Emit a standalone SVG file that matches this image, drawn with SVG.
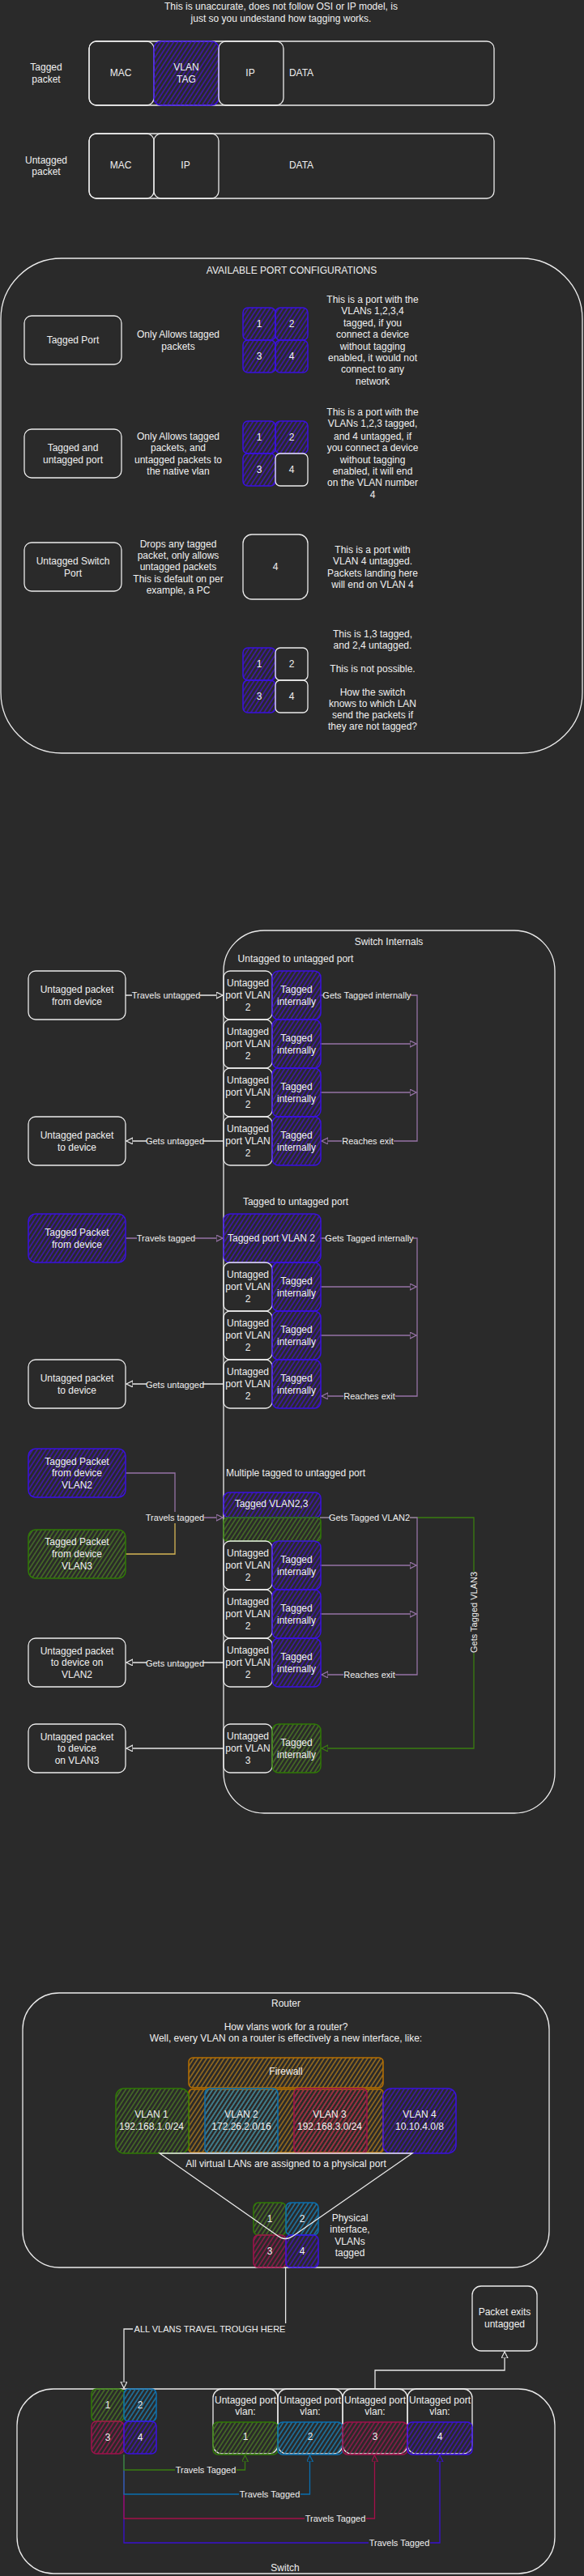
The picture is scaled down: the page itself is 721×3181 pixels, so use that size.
<svg xmlns="http://www.w3.org/2000/svg" width="721" height="3181" viewBox="0 0 721 3181">
<style>
text{font-family:"Liberation Sans",Arial,Helvetica,sans-serif;font-size:12px;fill:#f0f0f0;text-anchor:middle;dominant-baseline:central}
.l{font-size:11px}
.w{fill:none;stroke:#ececec;stroke-width:1.3}
.pu{fill:url(#hpu);stroke:#3a10e0;stroke-width:1.5}
.gr{fill:url(#hgr);stroke:#2f7a05;stroke-width:1.5}
.bl{fill:url(#hbl);stroke:#0a6fb0;stroke-width:1.5}
.rd{fill:url(#hrd);stroke:#a0104c;stroke-width:1.5}
.or{fill:url(#hor);stroke:#b87000;stroke-width:1.5}
.c{fill:none;stroke-width:1.3}
.cw{stroke:#e8e8e8}
.cp{stroke:#9673a6}
.cy{stroke:#d6b656}
.cg{stroke:#3a7d10}
.cb{stroke:#0a6fb0}
.cr{stroke:#a3104a}
.cd{stroke:#3a10d0}
.lb{fill:#2a2a2a}
</style>
<defs>
<pattern id="hpu" width="4.5" height="4.5" patternUnits="userSpaceOnUse" patternTransform="rotate(33)"><line x1="1" y1="0" x2="1" y2="4.5" stroke="#4214c4" stroke-width="1.3"/></pattern>
<pattern id="hgr" width="4.5" height="4.5" patternUnits="userSpaceOnUse" patternTransform="rotate(33)"><line x1="1" y1="0" x2="1" y2="4.5" stroke="#4c7c24" stroke-width="1.3"/></pattern>
<pattern id="hbl" width="4.5" height="4.5" patternUnits="userSpaceOnUse" patternTransform="rotate(33)"><line x1="1" y1="0" x2="1" y2="4.5" stroke="#1a84bc" stroke-width="1.3"/></pattern>
<pattern id="hrd" width="4.5" height="4.5" patternUnits="userSpaceOnUse" patternTransform="rotate(33)"><line x1="1" y1="0" x2="1" y2="4.5" stroke="#a01850" stroke-width="1.3"/></pattern>
<pattern id="hor" width="4.5" height="4.5" patternUnits="userSpaceOnUse" patternTransform="rotate(33)"><line x1="1" y1="0" x2="1" y2="4.5" stroke="#b07a1a" stroke-width="1.3"/></pattern>
<marker id="aw" markerUnits="userSpaceOnUse" markerWidth="10" markerHeight="10" refX="8" refY="4" orient="auto"><path d="M0,0 L8,4 L0,8 Z" fill="#2a2a2a" stroke="#e8e8e8" stroke-width="1.2"/></marker>
<marker id="ap" markerUnits="userSpaceOnUse" markerWidth="10" markerHeight="10" refX="8" refY="4" orient="auto"><path d="M0,0 L8,4 L0,8 Z" fill="#2a2a2a" stroke="#9673a6" stroke-width="1.2"/></marker>
<marker id="ag" markerUnits="userSpaceOnUse" markerWidth="10" markerHeight="10" refX="8" refY="4" orient="auto"><path d="M0,0 L8,4 L0,8 Z" fill="#2a2a2a" stroke="#3a7d10" stroke-width="1.2"/></marker>
<marker id="ab" markerUnits="userSpaceOnUse" markerWidth="10" markerHeight="10" refX="8" refY="4" orient="auto"><path d="M0,0 L8,4 L0,8 Z" fill="#2a2a2a" stroke="#0a6fb0" stroke-width="1.2"/></marker>
<marker id="ar" markerUnits="userSpaceOnUse" markerWidth="10" markerHeight="10" refX="8" refY="4" orient="auto"><path d="M0,0 L8,4 L0,8 Z" fill="#2a2a2a" stroke="#a3104a" stroke-width="1.2"/></marker>
<marker id="ad" markerUnits="userSpaceOnUse" markerWidth="10" markerHeight="10" refX="8" refY="4" orient="auto"><path d="M0,0 L8,4 L0,8 Z" fill="#2a2a2a" stroke="#3a10d0" stroke-width="1.2"/></marker>
</defs>
<rect x="0" y="0" width="721" height="3181" fill="#2a2a2a"/>

<!-- Section 1: packets -->
<g id="title1"><text x="347" y="8">This is unaccurate, does not follow OSI or IP model, is</text><text x="347" y="23">just so you undestand how tagging works.</text></g>
<g id="tagged-packet">
<text x="57" y="83">Tagged</text><text x="57" y="98">packet</text>
<rect class="w" x="110" y="51" width="500" height="79" rx="9"/>
<rect class="w" x="110" y="51" width="80" height="79" rx="9"/>
<rect class="pu" x="190" y="51" width="80" height="79" rx="9"/>
<rect class="w" x="270" y="51" width="80" height="79" rx="9"/>
<text x="149" y="90">MAC</text>
<text x="230" y="83">VLAN</text><text x="230" y="98">TAG</text>
<text x="309" y="90">IP</text>
<text x="372" y="90">DATA</text>
</g>
<g id="untagged-packet">
<text x="57" y="198">Untagged</text><text x="57" y="212">packet</text>
<rect class="w" x="110" y="165" width="500" height="80" rx="9"/>
<rect class="w" x="110" y="165" width="80" height="80" rx="9"/>
<rect class="w" x="190" y="165" width="80" height="80" rx="9"/>
<text x="149" y="204">MAC</text>
<text x="229" y="204">IP</text>
<text x="372" y="204">DATA</text>
</g>

<!-- Section 2: port configurations -->
<g id="port-configs">
<rect class="w" x="1" y="319" width="718" height="611" rx="75"/>
<text x="360" y="334">AVAILABLE PORT CONFIGURATIONS</text>
</g>
<g id="tagged-port">
<rect class="w" x="30" y="390" width="120" height="60" rx="9"/>
<text x="90" y="420">Tagged Port</text>
<text x="220" y="413">Only Allows tagged</text><text x="220" y="428">packets</text>
<rect class="pu" x="300" y="380" width="40" height="40" rx="6"/>
<rect class="pu" x="340" y="380" width="40" height="40" rx="6"/>
<rect class="pu" x="300" y="420" width="40" height="40" rx="6"/>
<rect class="pu" x="340" y="420" width="40" height="40" rx="6"/>
<text x="320" y="400">1</text><text x="360" y="400">2</text><text x="320" y="440">3</text><text x="360" y="440">4</text>
<text x="460" y="370">This is a port with the</text>
<text x="460" y="384">VLANs 1,2,3,4</text>
<text x="460" y="399">tagged, if you</text>
<text x="460" y="413">connect a device</text>
<text x="460" y="428">without tagging</text>
<text x="460" y="442">enabled, it would not</text>
<text x="460" y="456">connect to any</text>
<text x="460" y="471">network</text>
</g>
<g id="tagged-untagged-port">
<rect class="w" x="30" y="530" width="120" height="60" rx="9"/>
<text x="90" y="553">Tagged and</text><text x="90" y="568">untagged port</text>
<text x="220" y="539">Only Allows tagged</text><text x="220" y="553">packets, and</text><text x="220" y="568">untagged packets to</text><text x="220" y="582">the native vlan</text>
<rect class="pu" x="300" y="520" width="40" height="40" rx="6"/>
<rect class="pu" x="340" y="520" width="40" height="40" rx="6"/>
<rect class="pu" x="300" y="560" width="40" height="40" rx="6"/>
<rect class="w" x="340" y="560" width="40" height="40" rx="6"/>
<text x="320" y="540">1</text><text x="360" y="540">2</text><text x="320" y="580">3</text><text x="360" y="580">4</text>
<text x="460" y="509">This is a port with the</text>
<text x="460" y="523">VLANs 1,2,3 tagged,</text>
<text x="460" y="539">and 4 untagged, if</text>
<text x="460" y="553">you connect a device</text>
<text x="460" y="568">without tagging</text>
<text x="460" y="582">enabled, it will end</text>
<text x="460" y="596">on the VLAN number</text>
<text x="460" y="611">4</text>
</g>
<g id="untagged-port">
<rect class="w" x="30" y="670" width="120" height="60" rx="9"/>
<text x="90" y="693">Untagged Switch</text><text x="90" y="708">Port</text>
<text x="220" y="672">Drops any tagged</text><text x="220" y="686">packet, only allows</text><text x="220" y="700">untagged packets</text><text x="220" y="715">This is default on per</text><text x="220" y="729">example, a PC</text>
<rect class="w" x="300" y="660" width="80" height="80" rx="11"/>
<text x="340" y="700">4</text>
<text x="460" y="679">This is a port with</text>
<text x="460" y="693">VLAN 4 untagged.</text>
<text x="460" y="708">Packets landing here</text>
<text x="460" y="722">will end on VLAN 4</text>
</g>
<g id="impossible-port">
<rect class="pu" x="300" y="800" width="40" height="40" rx="6"/>
<rect class="w" x="340" y="800" width="40" height="40" rx="6"/>
<rect class="pu" x="300" y="840" width="40" height="40" rx="6"/>
<rect class="w" x="340" y="840" width="40" height="40" rx="6"/>
<text x="320" y="820">1</text><text x="360" y="820">2</text><text x="320" y="860">3</text><text x="360" y="860">4</text>
<text x="460" y="783">This is 1,3 tagged,</text>
<text x="460" y="797">and 2,4 untagged.</text>
<text x="460" y="826">This is not possible.</text>
<text x="460" y="855">How the switch</text>
<text x="460" y="869">knows to which LAN</text>
<text x="460" y="883">send the packets if</text>
<text x="460" y="897">they are not tagged?</text>
</g>

<!-- Section 3: switch internals -->
<g id="switch-internals">
<rect class="w" x="276" y="1149" width="409" height="1090" rx="50"/>
<text x="480" y="1163">Switch Internals</text>
<text x="365" y="1184">Untagged to untagged port</text>
<text x="365" y="1484">Tagged to untagged port</text>
<text x="365" y="1819">Multiple tagged to untagged port</text>
</g>

<g id="connectors">
<path class="c cw" d="M155,1229 H275" marker-end="url(#aw)"/>
<rect class="lb" x="163" y="1222" width="84" height="14"/><text class="l" x="205" y="1229">Travels untagged</text>
<path class="c cw" d="M276,1409 H156" marker-end="url(#aw)"/>
<rect class="lb" x="181" y="1402" width="70" height="14"/><text class="l" x="216" y="1409">Gets untagged</text>
<path class="c cp" d="M395,1229 H515 V1409 H397" marker-end="url(#ap)"/>
<path class="c cp" d="M395,1289 H514" marker-end="url(#ap)"/>
<path class="c cp" d="M395,1349 H514" marker-end="url(#ap)"/>
<rect class="lb" x="399" y="1222" width="108" height="14"/><text class="l" x="453" y="1229">Gets Tagged internally</text>
<rect class="lb" x="422" y="1402" width="64" height="14"/><text class="l" x="454" y="1409">Reaches exit</text>
<path class="c cp" d="M155,1529 H275" marker-end="url(#ap)"/>
<rect class="lb" x="169" y="1522" width="72" height="14"/><text class="l" x="205" y="1529">Travels tagged</text>
<path class="c cp" d="M395,1529 H515 V1724 H397" marker-end="url(#ap)"/>
<path class="c cp" d="M395,1589 H514" marker-end="url(#ap)"/>
<path class="c cp" d="M395,1649 H514" marker-end="url(#ap)"/>
<rect class="lb" x="402" y="1522" width="108" height="14"/><text class="l" x="456" y="1529">Gets Tagged internally</text>
<rect class="lb" x="424" y="1717" width="64" height="14"/><text class="l" x="456" y="1724">Reaches exit</text>
<path class="c cw" d="M276,1709 H156" marker-end="url(#aw)"/>
<rect class="lb" x="181" y="1703" width="70" height="14"/><text class="l" x="216" y="1710">Gets untagged</text>
<path class="c cp" d="M155,1819 H216 V1874 H275" marker-end="url(#ap)"/>
<path class="c cy" d="M155,1919 H216 V1874"/>
<rect class="lb" x="180" y="1867" width="72" height="14"/><text class="l" x="216" y="1874">Travels tagged</text>
<path class="c cg" d="M395,1874 H585 V2159 H397" marker-end="url(#ag)"/>
<path class="c cp" d="M395,1874 H515 V2068 H397" marker-end="url(#ap)"/>
<path class="c cp" d="M395,1933 H514" marker-end="url(#ap)"/>
<path class="c cp" d="M395,1993 H514" marker-end="url(#ap)"/>
<rect class="lb" x="407" y="1867" width="99" height="14"/><text class="l" x="456" y="1874">Gets Tagged VLAN2</text>
<rect class="lb" x="424" y="2061" width="64" height="14"/><text class="l" x="456" y="2068">Reaches exit</text>
<g transform="translate(585,1991) rotate(-90)"><rect class="lb" x="-50" y="-7" width="100" height="14"/><text class="l" x="0" y="0">Gets Tagged VLAN3</text></g>
<path class="c cw" d="M276,2053 H156" marker-end="url(#aw)"/>
<rect class="lb" x="181" y="2047" width="70" height="14"/><text class="l" x="216" y="2054">Gets untagged</text>
<path class="c cw" d="M276,2159 H156" marker-end="url(#aw)"/>
<path class="c cw" d="M352.6,2800 V2876 H153 V2949" marker-end="url(#aw)"/>
<rect class="lb" x="164" y="2869" width="190" height="14"/><text class="l" x="259" y="2876">ALL VLANS TRAVEL TROUGH HERE</text>
<path class="c cw" d="M463,2950 V2927 H623 V2904" marker-end="url(#aw)"/>
<path class="c cd" d="M153,3031 V3140 H543 V3032" marker-end="url(#ad)"/>
<path class="c cr" d="M153,3031 V3110 H462.5 V3032" marker-end="url(#ar)"/>
<path class="c cb" d="M153,3031 V3080 H382.5 V3032" marker-end="url(#ab)"/>
<path class="c cg" d="M153,3031 V3050 H302.5 V3032" marker-end="url(#ag)"/>
<rect class="lb" x="216" y="3043" width="76" height="14"/><text class="l" x="254" y="3050">Travels Tagged</text>
<rect class="lb" x="295" y="3073" width="76" height="14"/><text class="l" x="333" y="3080">Travels Tagged</text>
<rect class="lb" x="376" y="3103" width="76" height="14"/><text class="l" x="414" y="3110">Travels Tagged</text>
<rect class="lb" x="455" y="3133" width="76" height="14"/><text class="l" x="493" y="3140">Travels Tagged</text>
</g>

<g id="a-src"><rect class="w" x="35" y="1199" width="120" height="60" rx="9"/><text x="95" y="1222">Untagged packet</text><text x="95" y="1237">from device</text></g>
<g id="a-dst"><rect class="w" x="35" y="1379" width="120" height="60" rx="9"/><text x="95" y="1402">Untagged packet</text><text x="95" y="1417">to device</text></g>
<g id="a-ports">
<rect class="w" x="276" y="1199" width="60" height="60" rx="8"/><rect class="pu" x="336" y="1199" width="60" height="60" rx="8"/>
<rect class="w" x="276" y="1259" width="60" height="60" rx="8"/><rect class="pu" x="336" y="1259" width="60" height="60" rx="8"/>
<rect class="w" x="276" y="1319" width="60" height="60" rx="8"/><rect class="pu" x="336" y="1319" width="60" height="60" rx="8"/>
<rect class="w" x="276" y="1379" width="60" height="60" rx="8"/><rect class="pu" x="336" y="1379" width="60" height="60" rx="8"/>
<text x="306" y="1214">Untagged</text><text x="306" y="1229">port VLAN</text><text x="306" y="1244">2</text><text x="366" y="1222">Tagged</text><text x="366" y="1237">internally</text>
<text x="306" y="1274">Untagged</text><text x="306" y="1289">port VLAN</text><text x="306" y="1304">2</text><text x="366" y="1282">Tagged</text><text x="366" y="1297">internally</text>
<text x="306" y="1334">Untagged</text><text x="306" y="1349">port VLAN</text><text x="306" y="1364">2</text><text x="366" y="1342">Tagged</text><text x="366" y="1357">internally</text>
<text x="306" y="1394">Untagged</text><text x="306" y="1409">port VLAN</text><text x="306" y="1424">2</text><text x="366" y="1402">Tagged</text><text x="366" y="1417">internally</text>
</g>

<g id="b-src"><rect class="pu" x="35" y="1499" width="120" height="60" rx="9"/><text x="95" y="1522">Tagged Packet</text><text x="95" y="1537">from device</text></g>
<g id="b-dst"><rect class="w" x="35" y="1679" width="120" height="60" rx="9"/><text x="95" y="1702">Untagged packet</text><text x="95" y="1717">to device</text></g>
<g id="b-ports">
<rect class="pu" x="276" y="1499" width="120" height="60" rx="8"/><text x="335" y="1529">Tagged port VLAN 2</text>
<rect class="w" x="276" y="1559" width="60" height="60" rx="8"/><rect class="pu" x="336" y="1559" width="60" height="60" rx="8"/>
<rect class="w" x="276" y="1619" width="60" height="60" rx="8"/><rect class="pu" x="336" y="1619" width="60" height="60" rx="8"/>
<rect class="w" x="276" y="1679" width="60" height="60" rx="8"/><rect class="pu" x="336" y="1679" width="60" height="60" rx="8"/>
<text x="306" y="1574">Untagged</text><text x="306" y="1589">port VLAN</text><text x="306" y="1604">2</text><text x="366" y="1582">Tagged</text><text x="366" y="1597">internally</text>
<text x="306" y="1634">Untagged</text><text x="306" y="1649">port VLAN</text><text x="306" y="1664">2</text><text x="366" y="1642">Tagged</text><text x="366" y="1657">internally</text>
<text x="306" y="1694">Untagged</text><text x="306" y="1709">port VLAN</text><text x="306" y="1724">2</text><text x="366" y="1702">Tagged</text><text x="366" y="1717">internally</text>
</g>

<g id="c-src2"><rect class="pu" x="35" y="1789" width="120" height="60" rx="9"/><text x="95" y="1805">Tagged Packet</text><text x="95" y="1819">from device</text><text x="95" y="1834">VLAN2</text></g>
<g id="c-src3"><rect class="gr" x="35" y="1889" width="120" height="60" rx="9"/><text x="95" y="1904">Tagged Packet</text><text x="95" y="1919">from device</text><text x="95" y="1934">VLAN3</text></g>
<g id="c-dst2"><rect class="w" x="35" y="2023" width="120" height="60" rx="9"/><text x="95" y="2039">Untagged packet</text><text x="95" y="2053">to device on</text><text x="95" y="2068">VLAN2</text></g>
<g id="c-dst3"><rect class="w" x="35" y="2129" width="120" height="60" rx="9"/><text x="95" y="2145">Untagged packet</text><text x="95" y="2159">to device</text><text x="95" y="2174">on VLAN3</text></g>
<g id="c-ports">
<rect class="pu" x="276" y="1843" width="120" height="31" rx="7"/>
<rect class="gr" x="276" y="1874" width="120" height="29" rx="5"/>
<text x="335" y="1857">Tagged VLAN2,3</text>
<rect class="w" x="276" y="1903" width="60" height="60" rx="8"/><rect class="pu" x="336" y="1903" width="60" height="60" rx="8"/>
<rect class="w" x="276" y="1963" width="60" height="60" rx="8"/><rect class="pu" x="336" y="1963" width="60" height="60" rx="8"/>
<rect class="w" x="276" y="2023" width="60" height="60" rx="8"/><rect class="pu" x="336" y="2023" width="60" height="60" rx="8"/>
<rect class="w" x="276" y="2129" width="60" height="60" rx="8"/><rect class="gr" x="336" y="2129" width="60" height="60" rx="8"/>
<text x="306" y="1918">Untagged</text><text x="306" y="1933">port VLAN</text><text x="306" y="1948">2</text><text x="366" y="1926">Tagged</text><text x="366" y="1941">internally</text>
<text x="306" y="1978">Untagged</text><text x="306" y="1993">port VLAN</text><text x="306" y="2008">2</text><text x="366" y="1986">Tagged</text><text x="366" y="2001">internally</text>
<text x="306" y="2038">Untagged</text><text x="306" y="2053">port VLAN</text><text x="306" y="2068">2</text><text x="366" y="2046">Tagged</text><text x="366" y="2061">internally</text>
<text x="306" y="2144">Untagged</text><text x="306" y="2159">port VLAN</text><text x="306" y="2174">3</text><text x="366" y="2152">Tagged</text><text x="366" y="2167">internally</text>
</g>

<g id="router">
<rect class="w" x="28" y="2461" width="650" height="339" rx="45"/>
<text x="353" y="2474">Router</text>
<text x="353" y="2503">How vlans work for a router?</text>
<text x="353" y="2517">Well, every VLAN on a router is effectively a new interface, like:</text>
</g>
<g id="firewall">
<rect class="or" x="233" y="2541" width="240" height="37" rx="5"/>
<rect class="or" x="233" y="2580" width="240" height="78" rx="4"/>
<text x="353" y="2558">Firewall</text>
</g>
<g id="vlans">
<rect class="gr" x="143" y="2579" width="90" height="80" rx="10"/>
<rect class="bl" x="253" y="2579" width="90" height="80" rx="6"/>
<rect class="rd" x="363" y="2579" width="90" height="80" rx="6"/>
<rect class="pu" x="473" y="2579" width="90" height="80" rx="10"/>
<text x="187" y="2611">VLAN 1</text><text x="187" y="2626">192.168.1.0/24</text>
<text x="298" y="2611">VLAN 2</text><text x="298" y="2626">172.26.2.0/16</text>
<text x="407" y="2611">VLAN 3</text><text x="407" y="2626">192.168.3.0/24</text>
<text x="518" y="2611">VLAN 4</text><text x="518" y="2626">10.10.4.0/8</text>
</g>
<g id="router-port">
<rect class="gr" x="313" y="2720" width="40" height="40" rx="6"/>
<rect class="bl" x="353" y="2720" width="40" height="40" rx="6"/>
<rect class="rd" x="313" y="2760" width="40" height="40" rx="6"/>
<rect class="pu" x="353" y="2760" width="40" height="40" rx="6"/>
<text x="333" y="2740">1</text><text x="373" y="2740">2</text><text x="333" y="2780">3</text><text x="373" y="2780">4</text>
<text x="432" y="2739">Physical</text><text x="432" y="2753">interface,</text><text x="432" y="2768">VLANs</text><text x="432" y="2782">tagged</text>
</g>
<g id="funnel">
<path class="w" d="M197,2659 L509,2659 L362,2761 Q352,2768 343,2761 Z"/>
<text x="353" y="2672">All virtual LANs are assigned to a physical port</text>
</g>
<g id="exit-box"><rect class="w" x="583" y="2823" width="80" height="80" rx="11"/><text x="623" y="2855">Packet exits</text><text x="623" y="2870">untagged</text></g>

<g id="switch">
<rect class="w" x="21" y="2950" width="664" height="228" rx="45"/>
<text x="352" y="3171">Switch</text>
</g>
<g id="switch-trunk">
<rect class="gr" x="113" y="2950" width="40" height="40" rx="6"/>
<rect class="bl" x="153" y="2950" width="40" height="40" rx="6"/>
<rect class="rd" x="113" y="2990" width="40" height="40" rx="6"/>
<rect class="pu" x="153" y="2990" width="40" height="40" rx="6"/>
<text x="133" y="2970">1</text><text x="173" y="2970">2</text><text x="133" y="3010">3</text><text x="173" y="3010">4</text>
</g>
<g id="switch-access">
<rect class="w" x="263" y="2950" width="80" height="80" rx="11"/>
<rect class="w" x="343" y="2950" width="80" height="80" rx="11"/>
<rect class="w" x="423" y="2950" width="80" height="80" rx="11"/>
<rect class="w" x="503" y="2950" width="80" height="80" rx="11"/>
<rect class="gr" x="263" y="2991" width="80" height="40" rx="6"/>
<rect class="bl" x="343" y="2991" width="80" height="40" rx="6"/>
<rect class="rd" x="423" y="2991" width="80" height="40" rx="6"/>
<rect class="pu" x="503" y="2991" width="80" height="40" rx="6"/>
<text x="303" y="2964">Untagged port</text><text x="303" y="2978">vlan:</text>
<text x="383" y="2964">Untagged port</text><text x="383" y="2978">vlan:</text>
<text x="463" y="2964">Untagged port</text><text x="463" y="2978">vlan:</text>
<text x="543" y="2964">Untagged port</text><text x="543" y="2978">vlan:</text>
<text x="303" y="3009">1</text><text x="383" y="3009">2</text><text x="463" y="3009">3</text><text x="543" y="3009">4</text>
</g>
</svg>
